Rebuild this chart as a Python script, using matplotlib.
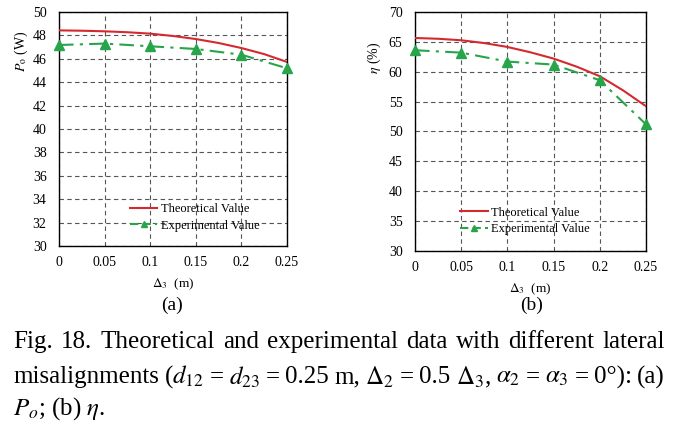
import numpy as np
import matplotlib.pyplot as plt

plt.rcParams['font.family'] = ['Liberation Serif', 'DejaVu Serif']
plt.rcParams['mathtext.fontset'] = 'stix'

# --- DATA ---
x_theory = [0, 0.025, 0.05, 0.075, 0.1, 0.125, 0.15, 0.175, 0.2, 0.225, 0.25]
po_theory = [48.43, 48.40, 48.35, 48.27, 48.15, 47.95, 47.69, 47.35, 46.92, 46.40, 45.73]
eta_theory = [65.65, 65.52, 65.27, 64.80, 64.15, 63.25, 62.20, 60.85, 59.25, 56.90, 54.23]

x_exp = [0, 0.05, 0.1, 0.15, 0.2, 0.25]
po_exp = [47.18, 47.30, 47.07, 46.84, 46.35, 45.19]
eta_exp = [63.6, 63.2, 61.7, 61.2, 58.58, 51.2]

x_ticks = [0, 0.05, 0.1, 0.15, 0.2, 0.25]
x_ticklabels = ['0', '0.05', '0.1', '0.15', '0.2', '0.25']

caption = [
    'Fig. 18. Theoretical and experimental data with different lateral',
    r'misalignments ($d_{12}$ = $d_{23}$ = 0.25 m, $\Delta_2$ = 0.5 $\Delta_3$, '
    r'$\alpha_2$ = $\alpha_3$ = 0°): (a)',
    r'$P_o$; (b) $\eta$.',
]

red = '#d42a2f'
green = '#28a44a'

W, H = 685, 424
fig = plt.figure(figsize=(W / 100, H / 100), dpi=100)
ax1 = fig.add_axes([59 / W, 1 - 246 / H, 228 / W, 234 / H])
ax2 = fig.add_axes([415 / W, 1 - 251 / H, 231 / W, 239 / H])


def style_axes(ax, ylim, ystep):
    ax.set_xlim(0, 0.25)
    ax.set_ylim(*ylim)
    ax.set_xticks(x_ticks)
    ax.set_xticklabels(x_ticklabels)
    ax.set_yticks(np.arange(ylim[0], ylim[1] + 0.1, ystep))
    ax.grid(True, color='#555555', linestyle=(0, (4, 3)), linewidth=0.8)
    ax.set_axisbelow(True)
    ax.tick_params(axis='y', length=0, labelsize=10, pad=9)
    ax.tick_params(axis='x', length=0, labelsize=10, pad=7)
    for s in ax.spines.values():
        s.set_linewidth(1.0)
        s.set_color('black')
    ax.set_xlabel(r'$\Delta_3$  (m)', fontsize=9.5, labelpad=6)


panels = [
    (ax1, po_theory, po_exp, (30, 50), 2, r'$P_\mathrm{o}$ (W)', (-0.127, 0.83), (0.311, 0.122)),
    (ax2, eta_theory, eta_exp, (30, 70), 5, r'$\eta$ (%)', (-0.139, 0.81), (0.195, 0.1255)),
]
for ax, th, ex, ylim, ystep, ylab, lab_xy, leg_xy in panels:
    ax.plot(x_theory, th, color=red, lw=1.5, label='Theoretical Value', zorder=3)
    ax.plot(x_exp, ex, color=green, lw=1.5, linestyle=(0, (7, 3, 1.5, 3)),
            marker='^', markersize=7, label='Experimental Value', zorder=4,
            clip_on=False)
    style_axes(ax, ylim, ystep)
    ax.set_ylabel(ylab, fontsize=10)
    ax.yaxis.set_label_coords(*lab_xy)
    leg = ax.legend(loc='center left', bbox_to_anchor=leg_xy, frameon=False,
                    fontsize=9, handlelength=2.2, handletextpad=0.25,
                    labelspacing=0.35, borderaxespad=0, borderpad=0,
                    markerscale=0.6)
    leg.get_lines()[1].set_linestyle((0, (4, 2)))

fig.text(172 / W, 1 - 305 / H, '(a)', fontsize=14, ha='center', va='center')
fig.text(532 / W, 1 - 305 / H, '(b)', fontsize=14, ha='center', va='center')

# caption: first two lines justified between x0 and x1
x0, x1 = 13, 665
line_y = [342, 377, 409]
cap_size = 18
fig.canvas.draw()
renderer = fig.canvas.get_renderer()
for i, line in enumerate(caption):
    y = 1 - line_y[i] / H
    if i == len(caption) - 1:
        fig.text(x0 / W, y, line, fontsize=cap_size, ha='left', va='center')
        continue
    words = line.split(' ')
    texts = [fig.text(0, y, w, fontsize=cap_size, ha='left', va='center') for w in words]
    widths = [t.get_window_extent(renderer).width for t in texts]
    gap = (x1 - x0 - sum(widths)) / (len(words) - 1)
    xpos = x0
    for t, wd in zip(texts, widths):
        t.set_x(xpos / W)
        xpos += wd + gap

fig.savefig('out.png', dpi=100)
